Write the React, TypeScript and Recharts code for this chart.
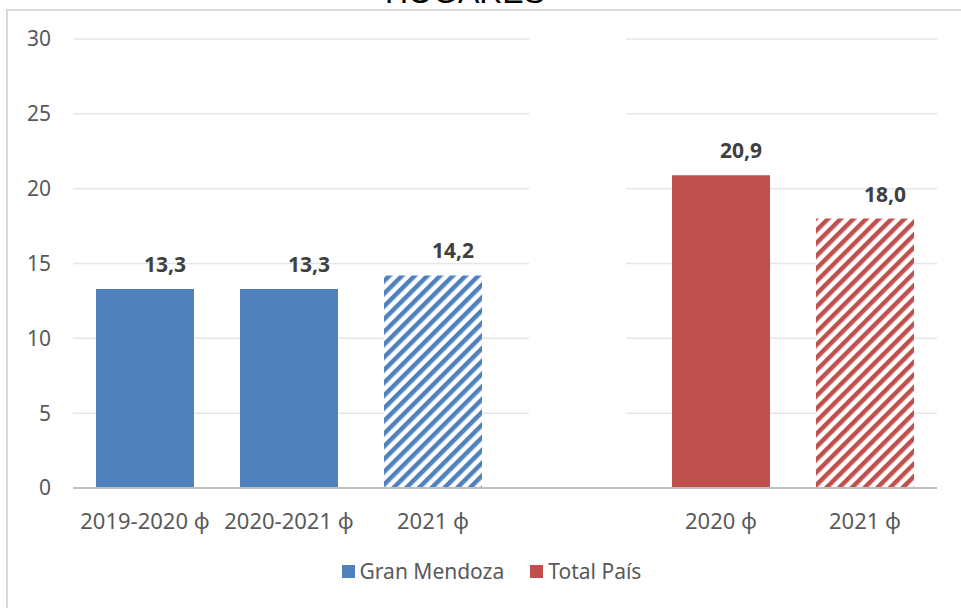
import React from "react";
import { BarChart, Bar, XAxis, YAxis, CartesianGrid, Legend, Cell, LabelList } from "recharts";

const categories = ["2019-2020 ϕ", "2020-2021 ϕ", "2021 ϕ", " ", "2020 ϕ", "2021 ϕ"];
const granMendoza = [13.3, 13.3, 14.2, null, null, null];
const totalPais = [null, null, null, null, 20.9, 18.0];
const projected = [false, false, true, false, false, true];
const yTicks = [0, 5, 10, 15, 20, 25, 30];

const BLUE = "#4F81BD";
const RED = "#C0504D";
const FONT = "'Noto Sans', sans-serif";

const chartData = categories.map((name, i) => ({
  name,
  gm: granMendoza[i],
  tp: totalPais[i],
  hatch: projected[i],
}));

function ValueLabel(props: any) {
  const { x, y, width, value } = props;
  if (value == null) return null;
  return (
    <text
      x={x + width / 2 + 20}
      y={y - 17}
      textAnchor="middle"
      fontFamily={FONT}
      fontSize={21}
      fontWeight={700}
      fill="#404040"
    >
      {Number(value).toFixed(1).replace(".", ",")}
    </text>
  );
}

function LegendContent() {
  const items = [
    { label: "Gran Mendoza", color: BLUE },
    { label: "Total País", color: RED },
  ];
  return (
    <div style={{ display: "flex", justifyContent: "center", gap: 26, marginLeft: 22 }}>
      {items.map((it) => (
        <div key={it.label} style={{ display: "flex", alignItems: "center" }}>
          <span style={{ width: 13, height: 13, background: it.color, marginRight: 5 }} />
          <span style={{ fontFamily: FONT, fontSize: 21, color: "#595959" }}>{it.label}</span>
        </div>
      ))}
    </div>
  );
}

export default function App() {
  return (
    <div style={{ position: "fixed", left: 0, top: 0, width: 961, height: 608, overflow: "hidden", background: "#fff" }}>
      <div
        style={{
          position: "absolute",
          left: 6,
          top: 9,
          width: 1100,
          height: 800,
          border: "2px solid #d9d9d9",
        }}
      />
      <div
        style={{
          position: "absolute",
          left: 0,
          width: 930,
          top: -28,
          textAlign: "center",
          fontFamily: "'Liberation Sans', Arial, sans-serif",
          fontSize: 32,
          lineHeight: "40px",
          color: "#000",
        }}
      >
        HOGARES
      </div>
      <div style={{ position: "absolute", left: 0, top: 0 }}>
        <BarChart width={961} height={608} data={chartData} margin={{ top: 39, right: 24, left: 0, bottom: 80 }}>
          <defs>
            <pattern id="hatchBlue" patternUnits="userSpaceOnUse" width="9" height="9" patternTransform="rotate(45)">
              <rect width="9" height="9" fill="#fff" />
              <rect width="4.5" height="9" fill={BLUE} />
            </pattern>
            <pattern id="hatchRed" patternUnits="userSpaceOnUse" width="9" height="9" patternTransform="rotate(45)">
              <rect width="9" height="9" fill="#fff" />
              <rect width="4.5" height="9" fill={RED} />
            </pattern>
          </defs>
          <CartesianGrid vertical={false} stroke="#e6e6e6" strokeWidth={1.5} />
          <XAxis
            dataKey="name"
            height={40}
            axisLine={{ stroke: "#bfbfbf", strokeWidth: 2 }}
            tickLine={false}
            tickSize={0}
            tickMargin={25}
            interval={0}
            tick={{ fontFamily: FONT, fontSize: 22, fill: "#595959" }}
          />
          <YAxis
            width={73}
            domain={[0, 30]}
            ticks={yTicks}
            axisLine={false}
            tickLine={false}
            tickSize={0}
            tickMargin={22}
            tick={{ fontFamily: FONT, fontSize: 21, fill: "#595959" }}
          />
          <Legend
            verticalAlign="middle"
            align="center"
            layout="horizontal"
            wrapperStyle={{ top: 557, left: 0, width: 961 }}
            content={<LegendContent />}
          />
          <Bar dataKey="gm" name="Gran Mendoza" stackId="s" barSize={98} fill={BLUE} isAnimationActive={false}>
            {chartData.map((d, i) => (
              <Cell key={i} fill={d.hatch ? "url(#hatchBlue)" : BLUE} />
            ))}
            <LabelList dataKey="gm" content={ValueLabel} />
          </Bar>
          <Bar dataKey="tp" name="Total País" stackId="s" barSize={98} fill={RED} isAnimationActive={false}>
            {chartData.map((d, i) => (
              <Cell key={i} fill={d.hatch ? "url(#hatchRed)" : RED} />
            ))}
            <LabelList dataKey="tp" content={ValueLabel} />
          </Bar>
        </BarChart>
      </div>
      <div style={{ position: "absolute", left: 529, top: 30, width: 97, height: 456, background: "#fff" }} />
    </div>
  );
}
